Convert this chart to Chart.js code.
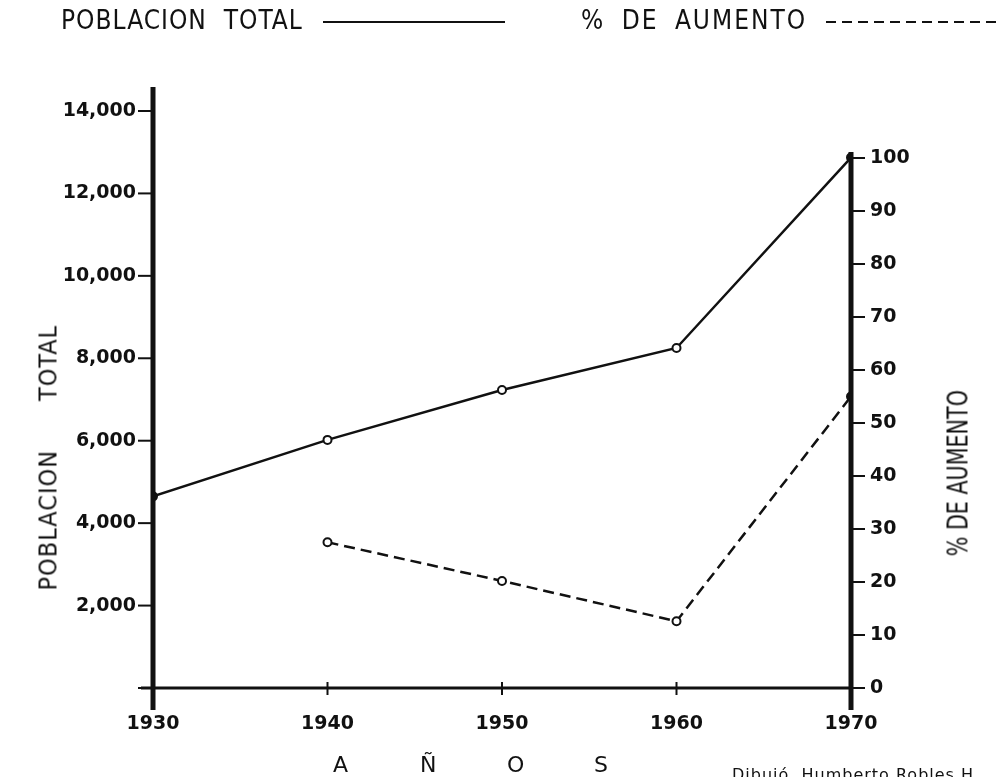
<!DOCTYPE html>
<html>
<head>
<meta charset="utf-8">
<script src="https://cdn.jsdelivr.net/npm/chart.js@4.4.1/dist/chart.umd.min.js"></script>
<style>
  html, body { margin: 0; padding: 0; background: #fff; }
  #wrap { position: relative; width: 1002px; height: 777px; overflow: hidden; }
  #wrap canvas { position: absolute; left: 0; top: 0; }
  .lbl { position: absolute; color: #111; font-family: "Liberation Sans Narrow", "DejaVu Sans Condensed", sans-serif; white-space: nowrap; }
  .head { top: 5px; font-size: 26px; letter-spacing: 1px; }
  .rot { transform: rotate(-90deg); transform-origin: center center; }
  .key { position: absolute; top: 21px; height: 2px; background: #111; }
  .key.dash { background: repeating-linear-gradient(90deg, #111 0 10px, transparent 10px 16px); }
  .anos span { display: inline-block; width: 87px; }
</style>
</head>
<body>
<div id="wrap">
  <canvas id="chart" width="1002" height="777"></canvas>
  <div class="lbl head" style="left:61px">POBLACION&nbsp; TOTAL</div>
  <div class="key" style="left:323px; width:182px"></div>
  <div class="lbl head" style="left:581px; letter-spacing:2px; word-spacing:7px">% DE AUMENTO</div>
  <div class="key dash" style="left:826px; width:176px"></div>
  <div class="lbl rot" style="left:-72px; top:456px; width:240px; text-align:center; font-size:25px; letter-spacing:1px">POBLACION&nbsp;&nbsp;&nbsp;&nbsp;&nbsp; TOTAL</div>
  <div class="lbl rot" style="left:868px; top:468px; width:180px; text-align:center; font-size:28px"><span style="display:inline-block; transform:scaleX(0.82)">% DE AUMENTO</span></div>
  <div class="lbl anos" style="left:333px; top:752px; font-size:22px; font-family:'DejaVu Sans', sans-serif"><span>A</span><span>Ñ</span><span>O</span>S</div>
  <div class="lbl" style="left:732px; top:765px; font-size:16px; letter-spacing:1px; font-family:'DejaVu Sans', sans-serif">Dibujó&nbsp; Humberto Robles H.</div>
</div>
<script>
// values
const years = [1930, 1940, 1950, 1960, 1970]
const population = [4650, 6020, 7230, 8250, 12870]
const pctYears = [1940, 1950, 1960, 1970]
const pctIncrease = [27.5, 20.2, 12.6, 55.0]
const popTicks = [0, 2000, 4000, 6000, 8000, 10000, 12000, 14000]
const pctTicks = [0, 10, 20, 30, 40, 50, 60, 70, 80, 90, 100]
const yearTicks = [1930, 1940, 1950, 1960, 1970]

const ink = "#111"
const tickFont = { family: "DejaVu Sans, sans-serif", size: 19, weight: "bold" }

// hand drawn axes: thick verticals, tick marks, base line
const drawnAxes = {
  id: "drawnAxes",
  beforeDatasetsDraw(chart) {
    const { ctx, chartArea } = chart
    const x = chart.scales.x, y = chart.scales.y, y1 = chart.scales.y1
    const xl = x.getPixelForValue(yearTicks[0])
    const xr = x.getPixelForValue(yearTicks[yearTicks.length - 1])
    const base = y.getPixelForValue(0)
    ctx.save()
    ctx.strokeStyle = ink
    ctx.lineCap = "butt"

    ctx.lineWidth = 3
    ctx.beginPath(); ctx.moveTo(xl - 12, base); ctx.lineTo(xr, base); ctx.stroke()

    ctx.lineWidth = 5
    ctx.beginPath(); ctx.moveTo(xl, chartArea.top); ctx.lineTo(xl, base + 22); ctx.stroke()
    ctx.beginPath(); ctx.moveTo(xr, y1.getPixelForValue(100) - 6); ctx.lineTo(xr, base + 22); ctx.stroke()

    ctx.lineWidth = 2
    popTicks.forEach(v => {
      const p = y.getPixelForValue(v)
      ctx.beginPath(); ctx.moveTo(xl - 15, p); ctx.lineTo(xl, p); ctx.stroke()
    })
    pctTicks.forEach(v => {
      const p = y1.getPixelForValue(v)
      ctx.beginPath(); ctx.moveTo(xr, p); ctx.lineTo(xr + 14, p); ctx.stroke()
    })
    yearTicks.slice(1, -1).forEach(v => {
      const p = x.getPixelForValue(v)
      ctx.beginPath(); ctx.moveTo(p, base - 6); ctx.lineTo(p, base + 7); ctx.stroke()
    })
    ctx.restore()
  }
}

new Chart(document.getElementById("chart"), {
  type: "line",
  data: {
    datasets: [
      {
        label: "POBLACION TOTAL",
        data: years.map((yr, i) => ({ x: yr, y: population[i] })),
        yAxisID: "y",
        borderColor: ink,
        borderWidth: 2.5,
        tension: 0,
        pointRadius: 4,
        pointBorderWidth: 2,
        pointBorderColor: ink,
        pointBackgroundColor: years.map((_, i) => (i === 0 || i === years.length - 1) ? ink : "#fff")
      },
      {
        label: "% DE AUMENTO",
        data: pctYears.map((yr, i) => ({ x: yr, y: pctIncrease[i] })),
        yAxisID: "y1",
        borderColor: ink,
        borderWidth: 2.5,
        borderDash: [11, 6],
        tension: 0,
        pointRadius: 4,
        pointBorderWidth: 2,
        pointBorderColor: ink,
        pointBackgroundColor: pctYears.map((_, i) => i === pctYears.length - 1 ? ink : "#fff")
      }
    ]
  },
  options: {
    responsive: false,
    animation: false,
    layout: { padding: { top: 87, left: 0, right: 0, bottom: 0 } },
    plugins: { legend: { display: false }, tooltip: { enabled: false } },
    scales: {
      x: {
        type: "linear",
        min: 1930,
        max: 1970,
        afterBuildTicks: s => { s.ticks = yearTicks.map(v => ({ value: v })) },
        afterFit: s => { s.height = 89 },
        grid: { display: false, drawTicks: false },
        border: { display: false },
        ticks: { color: ink, font: tickFont, padding: 25, maxRotation: 0, callback: v => String(v) }
      },
      y: {
        position: "left",
        min: 0,
        max: 14582,
        afterBuildTicks: s => { s.ticks = popTicks.map(v => ({ value: v })) },
        afterFit: s => { s.width = 153 },
        grid: { display: false, drawTicks: false },
        border: { display: false },
        ticks: { color: ink, font: tickFont, padding: 17, callback: v => v === 0 ? "" : v.toLocaleString("en-US") }
      },
      y1: {
        position: "right",
        min: 0,
        max: 113.4,
        afterBuildTicks: s => { s.ticks = pctTicks.map(v => ({ value: v })) },
        afterFit: s => { s.width = 151 },
        grid: { display: false, drawTicks: false },
        border: { display: false },
        ticks: { color: ink, font: tickFont, padding: 19 }
      }
    }
  },
  plugins: [drawnAxes]
})
</script>
</body>
</html>
